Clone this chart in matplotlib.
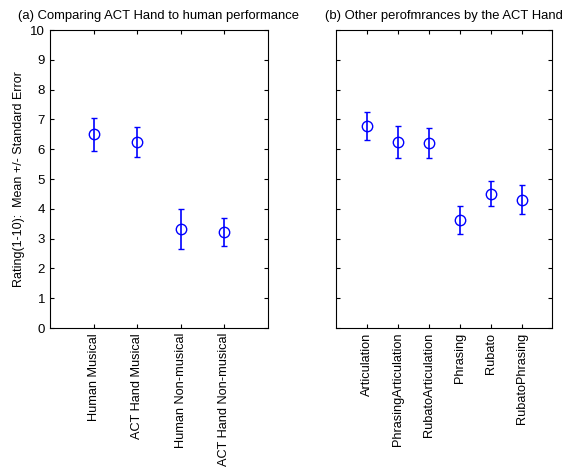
import matplotlib
import matplotlib.pyplot as plt

matplotlib.use('Agg')
plt.rcParams['font.family'] = ['Liberation Sans', 'DejaVu Sans']

# panel (a)
labels_a = ["Human Musical", "ACT Hand Musical", "Human Non-musical", "ACT Hand Non-musical"]
means_a = [6.50, 6.24, 3.31, 3.23]
errs_a = [0.56, 0.50, 0.67, 0.48]

# panel (b)
labels_b = ["Articulation", "PhrasingArticulation", "RubatoArticulation",
            "Phrasing", "Rubato", "RubatoPhrasing"]
means_b = [6.79, 6.24, 6.22, 3.62, 4.51, 4.31]
errs_b = [0.47, 0.53, 0.50, 0.46, 0.43, 0.48]


def draw_panel(ax, labels, means, errs, title):
    xs = list(range(1, len(labels) + 1))
    ax.errorbar(xs, means, yerr=errs, fmt='o', color='blue', mfc='none',
                mec='blue', ms=7.5, mew=1.0, elinewidth=1.2, capsize=2.5, capthick=1.2)
    ax.set_xlim(0, len(labels) + 1)
    ax.set_ylim(0, 10)
    ax.set_yticks(range(0, 11))
    ax.set_xticks(xs)
    ax.set_xticklabels(labels, rotation=90, fontsize=9.2)
    ax.tick_params(direction='in', top=True, right=True, length=3, labelsize=9.5)
    ax.tick_params(axis='x', labelsize=9.2)
    ax.set_title(title, fontsize=9.4, pad=8)


fig = plt.figure(figsize=(5.66, 4.70), dpi=100)
ax1 = fig.add_axes([0.0883, 0.302, 0.385, 0.634])
ax2 = fig.add_axes([0.594, 0.302, 0.382, 0.634])

draw_panel(ax1, labels_a, means_a, errs_a, "(a) Comparing ACT Hand to human performance")
draw_panel(ax2, labels_b, means_b, errs_b, "(b) Other perofmrances by the ACT Hand")
ax2.set_yticklabels([])
ax1.set_ylabel("Rating(1-10):  Mean +/- Standard Error", fontsize=9)

fig.savefig("out.png", dpi=100)
